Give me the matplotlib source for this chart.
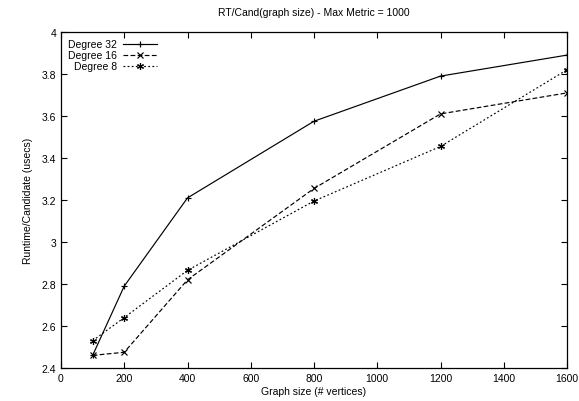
import matplotlib
matplotlib.use("Agg")
import matplotlib.pyplot as plt

plt.rcParams['font.family'] = ['Liberation Sans', 'DejaVu Sans']

sizes = [100, 200, 400, 800, 1200, 1600]
deg32 = [2.46, 2.79, 3.21, 3.575, 3.79, 3.89]
deg16 = [2.46, 2.475, 2.82, 3.255, 3.61, 3.71]
deg8 = [2.53, 2.64, 2.865, 3.195, 3.455, 3.82]

fig = plt.figure(figsize=(5.79, 4.02), dpi=100)
ax = fig.add_axes([61 / 579, 1 - 369 / 402, (567 - 61) / 579, (369 - 33) / 402])

ax.plot(sizes, deg32, color='black', lw=0.85, ls='-', marker='+', ms=5, mew=0.85, label='Degree 32')
ax.plot(sizes, deg16, color='black', lw=0.85, ls=(0, (4, 2)), marker='x', ms=4, mew=0.85, label='Degree 16')
ax.plot(sizes, deg8, color='black', lw=0.85, ls=(0, (1.5, 2)), marker=(6, 2, 0), ms=5, mew=0.85, label='Degree 8')

ax.set_xlim(0, 1600)
ax.set_ylim(2.4, 4)
ax.set_xticks(range(0, 1601, 200))
ax.set_yticks([2.4, 2.6, 2.8, 3.0, 3.2, 3.4, 3.6, 3.8, 4.0])
ax.set_yticklabels(['2.4', '2.6', '2.8', '3', '3.2', '3.4', '3.6', '3.8', '4'])
ax.tick_params(direction='in', top=True, right=True, labelsize=7.5, length=4, width=0.8)
for s in ax.spines.values():
    s.set_linewidth(0.9)

ax.set_title('RT/Cand(graph size) - Max Metric = 1000', fontsize=7.5, pad=12)
ax.set_xlabel('Graph size (# vertices)', fontsize=7.5, labelpad=2)
ax.set_ylabel('Runtime/Candidate (usecs)', fontsize=7.5, labelpad=6)

ax.legend(loc='upper left', frameon=False, markerfirst=False, fontsize=7.5,
          handlelength=3.2, handletextpad=0.6, labelspacing=0.1,
          bbox_to_anchor=(0.0, 1.0), borderaxespad=0.3)

fig.savefig('out.png', dpi=100)
